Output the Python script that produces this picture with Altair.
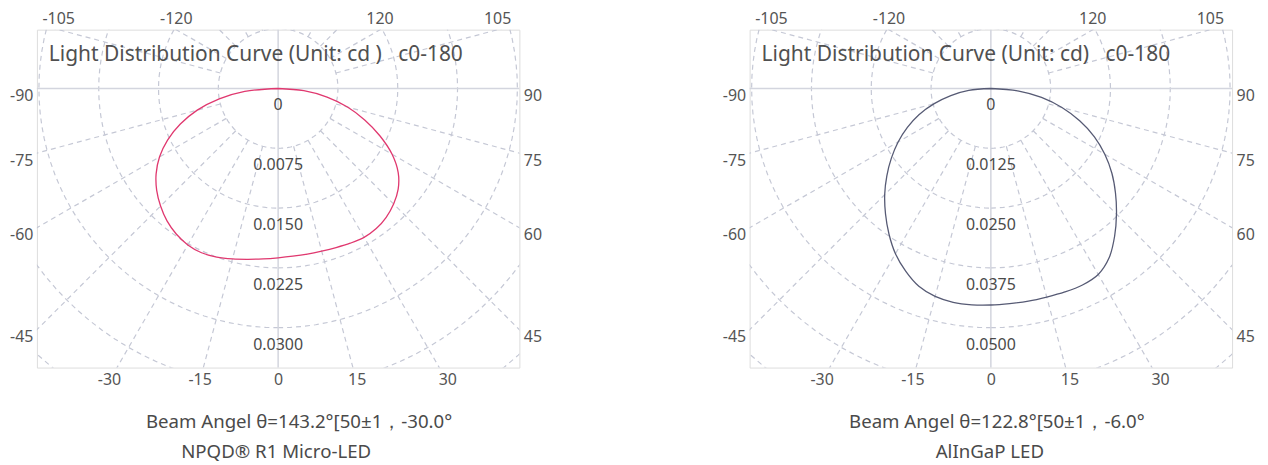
import math
import pandas as pd
import altair as alt

# ---------------- data ----------------
angles = [-90, -85, -80, -75, -70, -65, -60, -55, -50, -45, -40, -35, -30, -25, -20, -15, -10, -5,
          0, 5, 10, 15, 20, 25, 30, 35, 40, 45, 50, 55, 60, 65, 70, 75, 80, 85, 90]

npqd_cd = [0.0, 0.00420, 0.00750, 0.01050, 0.01305, 0.01530, 0.01718, 0.01868, 0.01988, 0.02085,
           0.02168, 0.02228, 0.02265, 0.02273, 0.02250, 0.02213, 0.02175, 0.02145,
           0.02123, 0.02111, 0.02108, 0.02111, 0.02123, 0.02141, 0.02156, 0.02145, 0.02108, 0.02048,
           0.01965, 0.01838, 0.01650, 0.01410, 0.01155, 0.00900, 0.00623, 0.00323, 0.0]

alingap_cd = [0.0, 0.00463, 0.00850, 0.01225, 0.01600, 0.01925, 0.02238, 0.02538, 0.02838, 0.03138,
              0.03425, 0.03713, 0.03988, 0.04213, 0.04400, 0.04500, 0.04538, 0.04538,
              0.04525, 0.04513, 0.04513, 0.04513, 0.04525, 0.04531, 0.04488, 0.04313, 0.04025, 0.03713,
              0.03400, 0.03088, 0.02750, 0.02388, 0.01975, 0.01538, 0.01075, 0.00563, 0.0]

npqd_step = 0.0075
alingap_step = 0.0125
npqd_rings = ["0", "0.0075", "0.0150", "0.0225", "0.0300"]
alingap_rings = ["0", "0.0125", "0.0250", "0.0375", "0.0500"]

bottom_ticks = [-30, -15, 0, 15, 30]
left_ticks = [-90, -75, -60, -45]
right_ticks = [90, 75, 60, 45]
top_ticks = [-105, -120, 120, 105]

NB = "\u00a0"
title_left = "Light Distribution Curve (Unit: cd )" + NB * 3 + "c0-180"
title_right = "Light Distribution Curve (Unit: cd)" + NB * 3 + "c0-180"
beam_left = "Beam Angel θ=143.2°[50±1，-30.0°"
beam_right = "Beam Angel θ=122.8°[50±1，-6.0°"
name_left = "NPQD® R1 Micro-LED"
name_right = "AlInGaP LED"

# ---------------- geometry / style ----------------
W, H = 484, 339
PX = 60.0                     # pixels per ring step
XH = W / 2 / PX               # half width in ring steps
YT = 59 / PX                  # above the centre
YB = (H - 59) / PX            # below the centre
Y_LAB = YB + 14 / PX          # bottom labels sit on the extended spokes
FONT = "Noto Sans"
GRID = "#c5c8d5"
TXT = "#4a4a4a"
TICK = "#555555"

xs = alt.Scale(domain=[-XH, XH], nice=False, zero=False)
ys = alt.Scale(domain=[-YB, YT], nice=False, zero=False)


def label_expr(vals, labels):
    parts = [f"abs(datum.value - ({v:.6f})) < 0.0005 ? '{l}'" for v, l in zip(vals, labels)]
    return " : ".join(parts) + " : ''"


def rad(a):
    return a * math.pi / 180.0


bottom_vals = [round(Y_LAB * math.tan(rad(a)), 6) for a in bottom_ticks]
side_vals = [round(-math.cos(rad(a)) * XH / abs(math.sin(rad(a))), 6) for a in left_ticks]

axis_common = dict(grid=False, domain=False, ticks=False, labelFontSize=16, labelColor=TICK,
                   labelFont=FONT, labelFlush=False, labelOverlap=False, labelBound=False, title=None)

ax_bottom = alt.Axis(orient="bottom", values=bottom_vals, labelPadding=4,
                     labelExpr=label_expr(bottom_vals, bottom_ticks), **axis_common)
ax_left = alt.Axis(orient="left", values=side_vals, labelPadding=4, labelOffset=7,
                   labelExpr=label_expr(side_vals, left_ticks), **axis_common)
ax_right = alt.Axis(orient="right", values=side_vals, labelPadding=4, labelOffset=7,
                    labelExpr=label_expr(side_vals, right_ticks), **axis_common)

# grid tables
ring_rows = [{"k": k, "a": a} for k in range(1, 8) for a in range(0, 361, 3)]
ring_df = pd.DataFrame(ring_rows)
spoke_rows = [{"s": s, "r": r} for s in range(-165, 181, 15) if s % 90 != 0 for r in (1, 9)]
spoke_df = pd.DataFrame(spoke_rows)
top_df = pd.DataFrame({"a": top_ticks, "label": [str(t) for t in top_ticks]})


def X(axis=None):
    return alt.X("x:Q", scale=xs, axis=axis)


def Y(axis=None):
    return alt.Y("y:Q", scale=ys, axis=axis)


def panel(cd, step, rings, color, title, beam, name, beam_cx, name_cx):
    circles = alt.Chart(ring_df).transform_calculate(
        x="datum.k * sin(datum.a * PI / 180)", y="-datum.k * cos(datum.a * PI / 180)"
    ).mark_line(clip=True, color=GRID, strokeWidth=1.2, strokeDash=[5, 4]).encode(
        x=X(ax_bottom), y=Y(ax_left), detail="k:N", order="a:Q")

    spokes = alt.Chart(spoke_df).transform_calculate(
        x="datum.r * sin(datum.s * PI / 180)", y="-datum.r * cos(datum.s * PI / 180)"
    ).mark_line(clip=True, color=GRID, strokeWidth=1.2, strokeDash=[5, 4]).encode(
        x=X(), y=Y(), detail="s:N", order="r:Q")

    zero = pd.DataFrame({"x": [0.0], "y": [0.0]})
    vline = alt.Chart(zero).mark_rule(color="#d3d5de", strokeWidth=1.5).encode(x=X())
    hline = alt.Chart(zero).mark_rule(color="#d3d5de", strokeWidth=1.5).encode(y=Y())

    curve_df = pd.DataFrame({"angle": angles, "cd": cd})
    curve = alt.Chart(curve_df).transform_calculate(
        x=f"datum.cd / {step} * sin(datum.angle * PI / 180)",
        y=f"-datum.cd / {step} * cos(datum.angle * PI / 180)"
    ).mark_line(color=color, strokeWidth=1.3, interpolate="catmull-rom").encode(
        x=X(), y=Y(), order="angle:Q")

    lab_df = pd.DataFrame({"k": list(range(len(rings))), "label": rings})
    ring_text = alt.Chart(lab_df).transform_calculate(x="0", y="-datum.k").mark_text(
        font=FONT, fontSize=16, color=TXT, dy=17, baseline="middle").encode(
        x=X(), y=Y(), text="label:N")

    # right-hand axis; top labels are placed where the spokes meet the top edge
    axis_layer = alt.Chart(lab_df).transform_calculate(x="0", y="0").mark_point(opacity=0).encode(
        x=X(), y=Y(ax_right))

    top_text = alt.Chart(top_df).transform_calculate(
        x=f"-{YT} * tan(datum.a * PI / 180)"
    ).mark_text(font=FONT, fontSize=16, color=TICK, baseline="bottom", align="center", dy=-1).encode(
        x=X(), y=alt.value(-2), text="label:N")

    head = alt.Chart(pd.DataFrame({"t": [title]})).mark_text(
        font=FONT, fontSize=21, color="#505050", align="left", baseline="middle").encode(
        x=alt.value(12), y=alt.value(25), text="t:N")

    cap1 = alt.Chart(pd.DataFrame({"t": [beam]})).mark_text(
        font=FONT, fontSize=18.7, color=TXT, align="center", baseline="middle").encode(
        x=alt.value(beam_cx), y=alt.value(394), text="t:N")
    cap2 = alt.Chart(pd.DataFrame({"t": [name]})).mark_text(
        font=FONT, fontSize=18.7, color=TXT, align="center", baseline="middle").encode(
        x=alt.value(name_cx), y=alt.value(424), text="t:N")

    return alt.layer(circles, spokes, vline, hline, curve, ring_text, axis_layer, top_text,
                     head, cap1, cap2
                     ).resolve_scale(x="independent", y="independent").properties(width=W, height=H)


left = panel(npqd_cd, npqd_step, npqd_rings, "#e0386f", title_left, beam_left, name_left, 263, 240)
right = panel(alingap_cd, alingap_step, alingap_rings, "#565a74", title_right, beam_right, name_right, 248, 241)

chart = alt.hconcat(left, right, spacing=231, bounds="flush").properties(
    padding={"left": 1, "top": 1, "right": 5, "bottom": 5}
).configure_view(stroke="#c9cbd7", strokeWidth=2.5, fill="white").configure(background="white")

chart.save("out.html", embed_options={"renderer": "svg", "actions": False})
